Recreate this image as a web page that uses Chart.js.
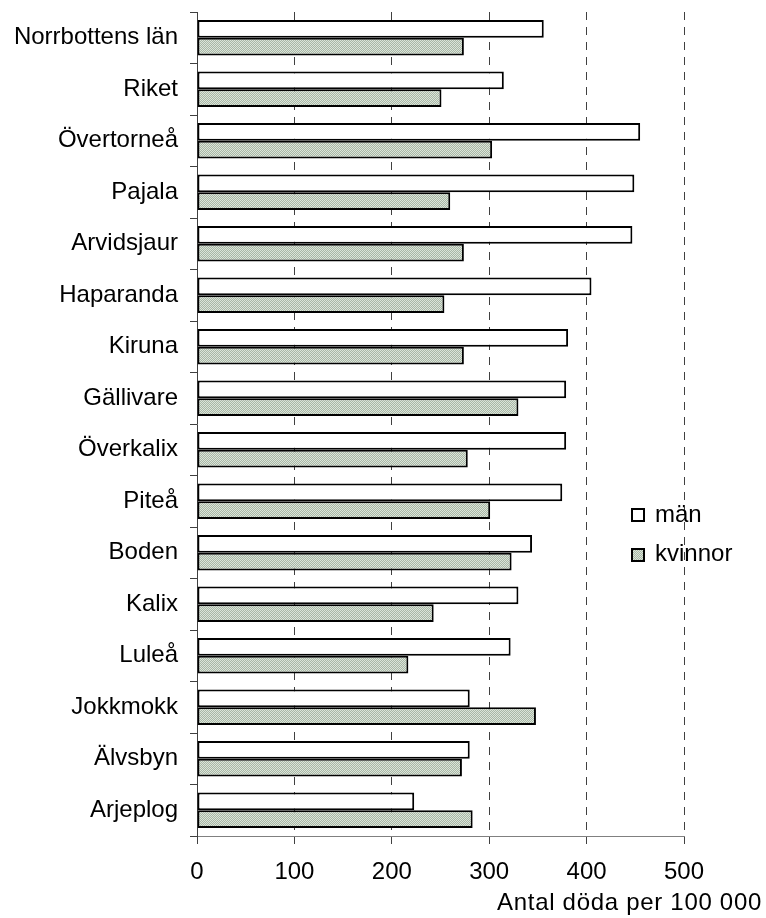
<!DOCTYPE html>
<html lang="sv">
<head>
    <meta charset="UTF-8">
    <title>Antal döda per 100 000</title>
    <script src="https://cdn.jsdelivr.net/npm/chart.js"></script>
    <style>
        * { margin: 0; padding: 0; box-sizing: border-box; }
        body { background: #fff; font-family: 'Liberation Sans', Arial, sans-serif; }
        .wrap { position: relative; width: 766px; height: 918px; }
        .legend-item { position: absolute; left: 631px; font-size: 24px; line-height: 24px; color: #000; }
        .legend-item span.box {
            position: absolute; left: 0; width: 14px; height: 14px; border: 2px solid #000;
        }
        .legend-item span.txt { position: absolute; left: 24px; top: 0; white-space: nowrap; }
        .stipple { background: repeating-conic-gradient(#dbe4d9 0 25%, #a8b7a6 0 50%) 0 0 / 2px 2px; }
        #xtitle {
            position: absolute; right: 4px; top: 890px; font-size: 24px; line-height: 24px;
            letter-spacing: 0.7px; white-space: nowrap;
        }
    </style>
</head>
<body>
<div class="wrap">
    <canvas id="chart"></canvas>
    <div class="legend-item" style="top:502px">
        <span class="box" style="top:6px;background:#fff"></span><span class="txt">män</span>
    </div>
    <div class="legend-item" style="top:541px">
        <span class="box stipple" style="top:7px"></span><span class="txt">kvinnor</span>
    </div>
    <div id="xtitle">Antal döda per 100 000</div>
</div>
<script>
    // kommuner, uppifrån och ned
    const kommuner = ['Norrbottens län', 'Riket', 'Övertorneå', 'Pajala', 'Arvidsjaur', 'Haparanda',
        'Kiruna', 'Gällivare', 'Överkalix', 'Piteå', 'Boden', 'Kalix', 'Luleå', 'Jokkmokk', 'Älvsbyn', 'Arjeplog'];
    const man = [356, 315, 455, 449, 447, 405, 381, 379, 379, 375, 344, 330, 322, 280, 280, 223];
    const kvinnor = [274, 251, 303, 260, 274, 254, 274, 330, 278, 301, 323, 243, 217, 348, 272, 283];
    const xTicks = [0, 100, 200, 300, 400, 500];

    // grönaktigt prickmönster för kvinnor
    const makePattern = () => {
        const c = document.createElement('canvas');
        c.width = 2; c.height = 2;
        const g = c.getContext('2d');
        g.fillStyle = '#dbe4d9'; g.fillRect(0, 0, 2, 2);
        g.fillStyle = '#a8b7a6'; g.fillRect(1, 0, 1, 1); g.fillRect(0, 1, 1, 1);
        return document.getElementById('chart').getContext('2d').createPattern(c, 'repeat');
    };

    const canvas = document.getElementById('chart');
    canvas.width = 766; canvas.height = 918;
    canvas.style.width = '766px'; canvas.style.height = '918px';

    Chart.defaults.font.family = "'Liberation Sans', Arial, sans-serif";
    Chart.defaults.font.size = 24;
    Chart.defaults.color = '#000';

    new Chart(canvas.getContext('2d'), {
        type: 'bar',
        data: {
            labels: kommuner,
            datasets: [{
                label: 'män',
                data: man,
                backgroundColor: '#fff',
                borderColor: '#000',
                borderWidth: 2,
                borderSkipped: false,
                categoryPercentage: 0.69,
                barPercentage: 1.0
            }, {
                label: 'kvinnor',
                data: kvinnor,
                backgroundColor: makePattern(),
                borderColor: '#000',
                borderWidth: 2,
                borderSkipped: false,
                categoryPercentage: 0.69,
                barPercentage: 1.0
            }]
        },
        options: {
            indexAxis: 'y',
            responsive: false,
            animation: false,
            layout: { padding: { top: 12, right: 82, bottom: 0, left: 0 } },
            plugins: {
                legend: { display: false },
                tooltip: { enabled: false }
            },
            scales: {
                x: {
                    min: 0,
                    max: 500,
                    afterBuildTicks: (axis) => { axis.ticks = xTicks.map(v => ({ value: v })); },
                    afterFit: (axis) => { axis.height = 82; },
                    border: { display: true, color: '#808080', width: 1, dash: [8, 7] },
                    grid: {
                        color: (ctx) => ctx.tick && ctx.tick.value === 0 ? 'rgba(0,0,0,0)' : '#404040',
                        lineWidth: 1,
                        drawTicks: true,
                        tickLength: 8,
                        tickColor: '#404040',
                        tickBorderDash: []
                    },
                    ticks: { padding: 14, maxRotation: 0 }
                },
                y: {
                    afterFit: (axis) => {
                        axis.width = 197;
                        axis.paddingTop = 0;
                        axis.paddingBottom = 0;
                    },
                    border: { display: true, color: '#404040', width: 1 },
                    grid: {
                        drawOnChartArea: false,
                        drawTicks: true,
                        tickLength: 7,
                        tickColor: '#404040',
                        offset: true
                    },
                    ticks: { padding: 12, autoSkip: false }
                }
            }
        }
    });
</script>
</body>
</html>
